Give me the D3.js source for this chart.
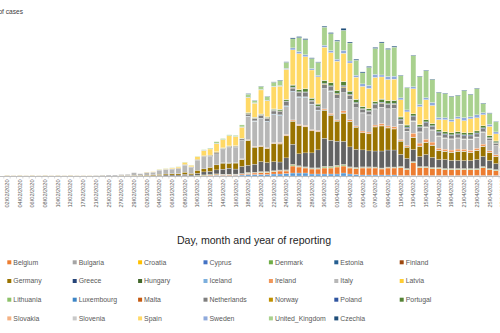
<!DOCTYPE html>
<html>
<head>
<meta charset="utf-8">
<script src="https://cdn.jsdelivr.net/npm/d3@7"></script>
<style>
  body { margin: 0; background: #fff; }
  svg { display: block; font-family: "Liberation Sans", Arial, sans-serif; }
</style>
</head>
<body>
<script>

// reporting dates (category axis)
var dates = [
  "02/02/2020","03/02/2020","04/02/2020","05/02/2020","06/02/2020","07/02/2020","08/02/2020","09/02/2020",
  "10/02/2020","11/02/2020","12/02/2020","13/02/2020","17/02/2020","18/02/2020","21/02/2020","24/02/2020",
  "25/02/2020","26/02/2020","27/02/2020","28/02/2020","29/02/2020",
  "01/03/2020","02/03/2020","03/03/2020","04/03/2020","05/03/2020","06/03/2020","07/03/2020","08/03/2020",
  "09/03/2020","10/03/2020","11/03/2020","12/03/2020","13/03/2020","14/03/2020","15/03/2020","16/03/2020",
  "17/03/2020","18/03/2020","19/03/2020","20/03/2020","21/03/2020","22/03/2020","23/03/2020","24/03/2020",
  "25/03/2020","26/03/2020","27/03/2020","28/03/2020","29/03/2020","30/03/2020","31/03/2020",
  "01/04/2020","02/04/2020","03/04/2020","04/04/2020","05/04/2020","06/04/2020","07/04/2020","08/04/2020",
  "09/04/2020","10/04/2020","11/04/2020","12/04/2020","13/04/2020","14/04/2020","15/04/2020","16/04/2020",
  "17/04/2020","18/04/2020","19/04/2020","20/04/2020","21/04/2020","22/04/2020","23/04/2020","24/04/2020",
  "25/04/2020","26/04/2020","27/04/2020","28/04/2020"
];

// daily cases, one value per date
var germany = [60,40,60,40,60,40,60,40,60,40,60,40,40,40,40,60,
  0,0,100,60,80,80,120,140,200,200, 240,260,400,300,600,600,800,1000,1200,1000,
  1200,1400,5000,3400,3000,2800,3600,3600,4400,4600, 5600,5200,4400,3600,5600,5000,4000,5600,5000,4400,
  3400,3400,4800,5000,4400,4200,2600,2200,2400,2000, 2400,2400,1800,1600,1600,1800,1800,1600,1800,2000,
  1600,1400,1000,1200];
var italy = [0,0,0,0,0,0,0,0,0,0,0,0,0,0,60,100,
  200,200,200,240,500,300,560,560,800,900, 900,1000,1400,1200,2000,2400,2200,2200,2600,3000,
  3000,3600,4600,5000,5400,5200,5600,5400,5600,5600, 5400,5600,5000,4000,4000,4400,4200,3600,4000,3600,
  3600,3400,3200,3200,3400,3600,3000,2800,2400,2200, 2400,2400,2400,2200,2200,2200,2000,2200,2200,2400,
  2000,1800,1400,1600];
var france = [0,0,0,0,0,0,0,0,0,0,0,0,0,0,0,0,
  0,0,0,40,80,80,60,80,140,200, 200,200,300,200,400,600,600,800,1000,1200,
  1000,1400,1400,1600,2000,1800,1800,1600,2400,4000, 2400,2800,3000,3600,5600,5200,4800,4600,4000,3600,
  3400,3200,3200,3400,3400,3400,2400,2000,2400,2000, 2400,2000,1600,1800,1600,1600,1600,1600,1800,2000,
  1600,1200,1000,1200];
var spain = [0,0,0,0,0,0,0,0,0,0,0,0,0,0,0,0,
  0,0,0,0,0,0,60,80,100,100, 160,200,400,300,500,1000,1200,1600,1600,2000,
  1800,2200,3000,2800,4800,3200,4400,4600,6000,7000, 7200,6400,5600,5400,6600,6000,5800,5600,5600,4400,
  4000,4000,4800,4400,4200,4200,3400,2600,5000,3600, 4000,3600,2000,2400,2200,2600,2400,2800,2600,2200,
  1800,1400,1000,1400];
var unitedKingdom = [0,0,0,0,0,0,0,0,0,0,0,0,0,0,0,0,
  0,0,0,0,0,0,0,0,40,40, 60,60,60,40,60,80,120,300,200,160,
  200,400,600,400,600,700,800,1000,1200,1800, 2800,3000,2000,2600,3600,3400,3600,4000,3600,3000,
  2200,3600,5200,6400,5400,5800,4400,4400,6200,5600, 5400,4600,5000,4800,4600,4200,5400,4400,5200,1800,
  2200,2000,1400,2000];
var belgium = [0,0,0,0,0,0,0,0,0,0,0,0,0,0,0,0,
  0,0,0,0,0,0,0,0,0,0, 0,0,60,0,60,100,120,200,140,160,
  140,200,240,300,400,400,500,600,500,1400, 1200,1000,1000,1000,1200,1200,1400,1400,1200,1200,
  1400,1400,1400,1200,1400,1400,1600,1200,2600,1600, 1600,1400,1400,1200,1200,1200,1200,1200,1200,1600,
  1200,1000,800,1000];
var austria = [0,0,0,0,0,0,0,0,0,0,0,0,0,0,0,0,
  0,0,0,0,0,0,0,0,0,0, 0,0,0,0,0,40,80,160,120,100,
  140,200,300,300,300,300,400,400,500,600, 600,600,400,400,400,400,400,600,400,300,
  200,200,200,200,200,200,100,100,100,100, 100,100,100,100,100,100,100,100,100,100,
  100,100,100,100];
var netherlands = [0,0,0,0,0,0,0,0,0,0,0,0,0,0,0,0,
  0,0,0,0,0,0,0,0,60,60, 80,80,100,80,120,160,200,300,200,200,
  240,300,400,400,500,500,600,600,800,600, 800,800,600,600,800,800,800,1000,800,800,
  600,600,800,800,800,800,800,600,800,800, 800,600,600,600,600,600,600,600,600,600,
  400,400,400,400];
var portugal = [0,0,0,0,0,0,0,0,0,0,0,0,0,0,0,0,
  0,0,0,0,0,0,0,0,0,0, 0,0,0,0,0,0,20,40,60,60,
  60,80,100,140,160,160,200,300,300,400, 400,600,400,400,600,600,600,800,600,600,
  400,400,400,600,600,600,400,400,400,400, 400,400,400,400,400,400,400,400,400,400,
  400,300,200,300];
var ireland = [0,0,0,0,0,0,0,0,0,0,0,0,0,0,0,0,
  0,0,0,0,0,0,0,0,0,0, 0,0,0,0,0,0,0,0,0,0,
  0,60,100,100,100,100,120,200,200,200, 200,200,160,200,200,300,200,400,300,200,
  300,300,300,400,300,400,300,300,800,600, 600,600,400,400,400,400,400,400,400,400,
  300,300,200,300];
var sweden = [0,0,0,0,0,0,0,0,0,0,0,0,0,0,0,0,
  0,0,0,0,0,0,0,0,0,0, 0,0,0,0,0,80,80,100,60,60,
  40,60,100,80,100,120,120,120,200,400, 400,400,300,300,400,400,400,600,400,400,
  500,600,600,400,600,600,400,400,400,400, 400,600,400,400,400,400,600,400,600,400,
  400,400,300,400];
var denmark = [0,0,0,0,0,0,0,0,0,0,0,0,0,0,0,0,
  0,0,0,0,0,0,0,0,0,0, 0,0,0,20,80,80,120,60,40,40,
  40,40,100,60,60,60,60,60,100,200, 100,100,100,100,200,200,200,200,100,100,
  100,100,100,100,100,100,100,100,100,100, 100,100,100,100,100,100,100,100,100,100,
  100,100,100,100];
var norway = [0,0,0,0,0,0,0,0,0,0,0,0,0,0,0,0,
  0,0,0,0,0,0,0,0,0,0, 20,60,80,60,100,120,60,100,40,40,
  40,40,100,100,100,80,100,100,80,100, 80,80,80,80,80,80,80,200,60,60,
  60,60,60,60,60,60,60,60,60,60, 60,60,60,60,60,60,60,60,60,60,
  60,60,60,60];
var poland = [0,0,0,0,0,0,0,0,0,0,0,0,0,0,0,0,
  0,0,0,0,0,0,0,0,0,0, 0,0,0,0,0,0,0,0,0,0,
  0,0,40,40,60,60,60,80,80,100, 100,100,100,100,120,120,120,200,160,160,
  140,140,160,160,140,140,140,160,140,140, 140,160,160,140,140,140,160,160,140,140,
  140,120,120,120];
var czechia = [0,0,0,0,0,0,0,0,0,0,0,0,0,0,0,0,
  0,0,0,0,0,0,0,0,0,0, 0,0,0,0,0,0,0,0,0,0,
  0,0,100,60,60,60,80,100,100,200, 200,200,140,100,200,200,200,400,200,200,
  200,200,200,200,200,200,100,100,100,100, 100,100,100,100,100,100,100,100,100,100,
  100,100,100,100];

// smaller countries, from 14/03/2020 onwards
var luxembourg = [20,40,40,40,60,60,80,100,100,100,100,120,100,80,80,60,60,60,40,40,40,40,40,40,20,20,20,20,20,20,20,20,20,20,20,20,20,10,10,10,10,10,10,10,10,10];
var finland = [20,20,20,20,40,40,60,40,40,60,60,80,60,40,40,40,60,60,60,60,40,60,60,60,40,40,40,40,60,60,40,40,40,60,40,40,60,60,40,40,40,60,40,40,40,20];
var greece = [40,20,20,40,20,40,20,20,40,60,20,20,40,60,20,20,40,40,20,20,60,40,20,20,20,20,40,20,20,20,20,20,20,20,20,20,20,20,20,20,20,20,20,20,20,20];
var hungary = [0,10,10,10,10,10,10,20,20,20,20,20,20,20,40,40,20,40,40,40,60,40,40,40,60,60,60,40,80,60,40,60,40,40,40,40,40,40,40,40,40,40,20,40,40,40];
var slovenia = [40,20,20,20,40,20,20,40,40,20,20,20,20,20,20,20,20,20,20,20,20,20,20,20,20,20,20,20,20,10,10,10,10,10,10,10,10,10,10,10,10,10,10,10,10,10];
var croatia = [10,10,10,10,20,20,20,40,20,40,20,40,40,40,40,40,40,40,60,40,40,20,20,20,20,20,20,20,20,20,20,20,20,20,20,20,20,20,20,10,10,10,10,10,10,10];
var estonia = [20,20,20,20,20,20,20,20,20,20,20,20,20,20,20,20,20,20,20,20,20,20,20,20,20,20,20,20,20,20,20,20,20,20,20,20,20,20,20,20,20,20,20,20,20,20];
var iceland = [20,20,20,20,20,40,20,20,20,20,40,20,20,20,20,20,20,20,20,20,20,20,20,20,20,10,10,10,10,10,10,10,10,10,10,10,10,10,10,10,10,10,10,10,10,10];
var slovakia = [10,10,10,10,10,20,20,20,20,20,20,20,20,20,20,20,20,20,20,20,20,20,20,20,20,20,20,20,20,20,20,20,20,20,20,20,20,20,20,20,20,20,20,20,20,20];
var lithuania = [10,10,10,10,10,10,20,20,20,20,20,20,20,20,20,20,20,20,20,20,20,20,20,20,20,20,20,20,20,20,20,20,20,20,20,20,20,20,20,20,20,20,20,20,20,20];
var latvia = [10,10,10,10,10,10,10,10,10,10,10,10,10,10,10,10,10,10,10,10,10,10,10,10,10,10,10,10,10,10,10,10,10,10,10,10,10,10,10,10,10,10,10,10,10,10];
var bulgaria = [10,10,10,10,10,10,10,10,10,10,10,10,10,10,10,10,10,10,10,10,10,10,10,10,10,10,10,10,10,10,10,10,10,10,10,10,10,10,10,10,10,10,10,10,10,10];
var cyprus = [10,10,10,10,10,10,10,10,10,10,10,10,10,10,10,10,10,10,10,10,10,10,10,10,10,10,10,10,10,10,10,10,10,10,10,10,10,10,10,10,10,10,10,10,10,10];
var malta = [10,10,10,10,10,10,10,10,10,10,10,10,10,10,10,10,10,10,10,10,10,10,10,10,10,10,10,10,10,10,10,10,10,10,10,10,10,10,10,10,10,10,10,10,10,10];

// stacking order (bottom to top) and fill colours
var series = [
  ["Austria", austria, "#5B9BD5"],
  ["Belgium", belgium, "#ED7D31"],
  ["Bulgaria", bulgaria, "#A5A5A5"],
  ["Croatia", croatia, "#FFC000"],
  ["Cyprus", cyprus, "#4472C4"],
  ["Denmark", denmark, "#70AD47"],
  ["Estonia", estonia, "#255E91"],
  ["Finland", finland, "#9E480E"],
  ["France", france, "#636363"],
  ["Germany", germany, "#997300"],
  ["Greece", greece, "#264478"],
  ["Hungary", hungary, "#43682B"],
  ["Iceland", iceland, "#7CAFDD"],
  ["Ireland", ireland, "#F1975A"],
  ["Italy", italy, "#B7B7B7"],
  ["Latvia", latvia, "#FFCD33"],
  ["Lithuania", lithuania, "#8CC168"],
  ["Luxembourg", luxembourg, "#3D85C6"],
  ["Malta", malta, "#C55A11"],
  ["Netherlands", netherlands, "#7F7F7F"],
  ["Norway", norway, "#BF9000"],
  ["Poland", poland, "#2F55A0"],
  ["Portugal", portugal, "#548235"],
  ["Slovakia", slovakia, "#F4B183"],
  ["Slovenia", slovenia, "#C9C9C9"],
  ["Spain", spain, "#FFD966"],
  ["Sweden", sweden, "#8FAADC"],
  ["United_Kingdom", unitedKingdom, "#A9D18E"],
  ["Czechia", czechia, "#1F4E79"]
];

// entries shown in the legend
var legendNames = [
  "Belgium","Bulgaria","Croatia","Cyprus","Denmark","Estonia","Finland",
  "Germany","Greece","Hungary","Iceland","Ireland","Italy","Latvia",
  "Lithuania","Luxembourg","Malta","Netherlands","Norway","Poland","Portugal",
  "Slovakia","Slovenia","Spain","Sweden","United_Kingdom","Czechia"
];

var width = 500, height = 333, base = 176;
var keys = series.map(s => s[0]);
var color = d3.scaleOrdinal().domain(keys).range(series.map(s => s[2]));

// pad the short arrays with leading zeros
function full(arr) {
  var out = dates.map(() => 0);
  var off = dates.length - arr.length;
  arr.forEach((v, i) => { out[off + i] = v; });
  return out;
}

var rows = dates.map(function (d, i) {
  var r = { date: d };
  series.forEach(function (s) { r[s[0]] = full(s[1])[i]; });
  return r;
});

var stacked = d3.stack().keys(keys)(rows);

var step = 6.35;
var x = d3.scaleBand()
  .domain(dates)
  .range([3.8, 3.8 + step * dates.length])
  .paddingInner(0.2)
  .paddingOuter(0.1);

var y = d3.scaleLinear().domain([0, 30000]).range([base, 26]);

var svg = d3.select("body").append("svg")
  .attr("width", width)
  .attr("height", height);

svg.append("rect").attr("width", width).attr("height", height).attr("fill", "#fff");

// value axis title, only its tail is inside the frame
svg.append("text")
  .attr("x", 23)
  .attr("y", 14)
  .attr("text-anchor", "end")
  .attr("font-size", "6.6px")
  .attr("fill", "#404040")
  .text("Number of cases");

var layers = svg.append("g")
  .selectAll("g")
  .data(stacked)
  .join("g")
  .attr("fill", d => color(d.key));

layers.selectAll("rect")
  .data(d => d)
  .join("rect")
  .attr("x", d => x(d.data.date))
  .attr("width", x.bandwidth())
  .attr("y", d => y(d[1]))
  .attr("height", d => Math.max(0, y(d[0]) - y(d[1])))
  .attr("stroke", "#fff")
  .attr("stroke-width", 0.25);

// category axis
var tickDates = dates.filter((d, i) => i % 2 === 0);
var axis = svg.append("g")
  .attr("transform", `translate(0, ${base})`)
  .call(d3.axisBottom(x).tickValues(tickDates).tickSize(0).tickPadding(0));

axis.select(".domain").attr("stroke", "#BFBFBF").attr("d", "M0,0.5H" + width);

axis.selectAll("text")
  .attr("transform", "rotate(-90)")
  .attr("text-anchor", "end")
  .attr("x", -3.5)
  .attr("y", 0)
  .attr("dy", "0.35em")
  .attr("font-size", "5.6px")
  .attr("font-family", "Liberation Sans, Arial, sans-serif")
  .attr("fill", "#595959");

svg.append("g")
  .selectAll("line")
  .data(dates)
  .join("line")
  .attr("x1", d => x(d) - (x.step() - x.bandwidth()) / 2)
  .attr("x2", d => x(d) - (x.step() - x.bandwidth()) / 2)
  .attr("y1", base + 0.5)
  .attr("y2", base + 2.5)
  .attr("stroke", "#BFBFBF")
  .attr("stroke-width", 0.6);

svg.append("text")
  .attr("x", 254)
  .attr("y", 244)
  .attr("text-anchor", "middle")
  .attr("font-size", "10.6px")
  .attr("fill", "#262626")
  .text("Day, month and year of reporting");

// legend, 7 columns
var legend = svg.append("g")
  .selectAll("g")
  .data(legendNames)
  .join("g")
  .attr("transform", (d, i) => `translate(${7.3 + (i % 7) * 65.4}, ${262.3 + Math.floor(i / 7) * 18.7})`);

legend.append("rect")
  .attr("x", 0)
  .attr("y", -2)
  .attr("width", 4)
  .attr("height", 4)
  .attr("fill", d => color(d));

legend.append("text")
  .attr("x", 6)
  .attr("y", 0)
  .attr("dy", "0.35em")
  .attr("font-size", "6.9px")
  .attr("fill", "#595959")
  .text(d => d);

</script>
</body>
</html>
